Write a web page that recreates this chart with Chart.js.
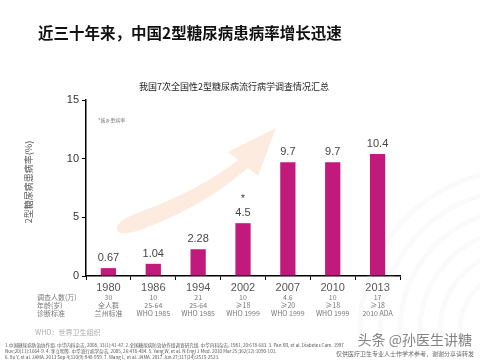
<!DOCTYPE html>
<html>
<head>
<meta charset="utf-8">
<script src="https://cdn.jsdelivr.net/npm/chart.js@4/dist/chart.umd.min.js"></script>
<style>
  html, body { margin: 0; padding: 0; background: #fff; }
  #wrap { width: 480px; height: 360px; }
</style>
</head>
<body>
<div id="wrap"><canvas id="diabetesChart" width="480" height="360"></canvas></div>
<script>
// survey years and prevalence (%)
const years = ['1980', '1986', '1994', '2002', '2007', '2010', '2013'];
const prevalence = [0.67, 1.04, 2.28, 4.5, 9.7, 9.7, 10.4];
const valueLabels = ['0.67', '1.04', '2.28', '4.5', '9.7', '9.7', '10.4'];
const yTicks = [0, 5, 10, 15];

// table under the axis
const rowNames = ['调查人数(万)', '年龄(岁)', '诊断标准'];
const sampleSize = ['30', '10', '21', '10', '4.6', '10', '17'];
const ageRange = ['全人群', '25-64', '25-64', '≥18', '≥20', '≥18', '≥18'];
const criteria = ['兰州标准', 'WHO 1985', 'WHO 1985', 'WHO 1999', 'WHO 1999', 'WHO 1999', '2010 ADA'];

const FONT = '"Liberation Sans", "Noto Sans CJK SC", sans-serif';
const CJK = '"Noto Sans CJK SC", "Liberation Sans", sans-serif';

const refLines = [
    '1.中国糖尿病防治协作组. 中华内科杂志, 2008, 33(1):41-47. 2.全国糖尿病防治协作组调查研究组. 中华内科杂志, 1981, 20:678-683. 3. Pan XR, et al. Diabetes Care. 1997',
    'Nov;20(11):1664-9. 4. 李立明等. 中华流行病学杂志, 2005, 26:478-484. 5. Yang W, et al. N Engl J Med. 2010 Mar 25;362(12):1090-101.',
    '6. Xu Y, et al. JAMA. 2013 Sep 4;310(9):948-959. 7. Wang L, et al. JAMA. 2017 Jun 27;317(24):2515-2523.'
];

// background decoration: faint arrow and arcs
const backdrop = {
    id: 'backdrop',
    beforeDatasetsDraw(chart) {
        const ctx = chart.ctx;
        ctx.save();
        // grey arcs at bottom right
        ctx.strokeStyle = 'rgba(215,215,215,0.12)';
        ctx.lineWidth = 5;
        for (let r = 60; r <= 160; r += 20) {
            ctx.beginPath();
            ctx.arc(520, 330, r, Math.PI * 0.95, Math.PI * 1.5);
            ctx.stroke();
        }
        // orange arrow
        ctx.fillStyle = 'rgba(245,165,110,0.22)';
        ctx.beginPath();
        ctx.moveTo(118, 232);
        ctx.quadraticCurveTo(112, 222, 140, 212);
        ctx.quadraticCurveTo(200, 190, 238, 160);
        ctx.lineTo(228, 152);
        ctx.lineTo(276, 128);
        ctx.lineTo(258, 176);
        ctx.lineTo(248, 168);
        ctx.quadraticCurveTo(205, 205, 150, 226);
        ctx.quadraticCurveTo(128, 236, 118, 232);
        ctx.closePath();
        ctx.fill();
        ctx.restore();
    }
};

// value labels, titles, table and footnotes
const annotations = {
    id: 'annotations',
    afterDraw(chart) {
        const ctx = chart.ctx;
        const meta = chart.getDatasetMeta(0);
        const xs = meta.data.map(b => b.x);
        ctx.save();

        // page title
        ctx.fillStyle = '#111';
        ctx.font = 'bold 15.5px ' + CJK;
        ctx.textAlign = 'left';
        ctx.textBaseline = 'middle';
        ctx.fillText('近三十年来，中国2型糖尿病患病率增长迅速', 38, 33);

        // chart title
        ctx.font = '9px ' + CJK;
        ctx.fillStyle = '#222';
        ctx.textAlign = 'center';
        ctx.fillText('我国7次全国性2型糖尿病流行病学调查情况汇总', 234, 87);

        // small note
        ctx.font = '5px ' + CJK;
        ctx.fillStyle = '#777';
        ctx.textAlign = 'left';
        ctx.fillText('*城乡患病率', 98, 120);

        // y axis title
        ctx.save();
        ctx.translate(29, 182);
        ctx.rotate(-Math.PI / 2);
        ctx.font = '9px ' + CJK;
        ctx.fillStyle = '#555';
        ctx.textAlign = 'center';
        ctx.fillText('2型糖尿病患病率(%)', 0, 0);
        ctx.restore();

        // bar labels
        ctx.font = '11px ' + FONT;
        ctx.fillStyle = '#444';
        ctx.textAlign = 'center';
        meta.data.forEach((bar, i) => {
            ctx.fillText(valueLabels[i], bar.x, bar.y - 10);
        });
        ctx.fillText('*', meta.data[3].x, meta.data[3].y - 24);

        // table
        const rowY = [297, 305, 313];
        const rows = [sampleSize, ageRange, criteria];
        ctx.fillStyle = '#777';
        ctx.font = '7px ' + CJK;
        ctx.textAlign = 'left';
        rowNames.forEach((name, r) => ctx.fillText(name, 37, rowY[r]));
        ctx.textAlign = 'center';
        rows.forEach((vals, r) => {
            vals.forEach((v, i) => ctx.fillText(v, xs[i], rowY[r]));
        });

        // WHO note
        ctx.fillStyle = '#aaa';
        ctx.textAlign = 'left';
        ctx.fillText('WHO：世界卫生组织', 35, 332);

        // references
        ctx.font = '4.6px ' + CJK;
        ctx.fillStyle = '#555';
        refLines.forEach((line, i) => ctx.fillText(line, 5, 345 + i * 6));

        // watermark
        ctx.fillStyle = 'rgba(90,90,90,0.75)';
        ctx.font = '14px ' + CJK;
        ctx.textAlign = 'right';
        ctx.fillText('头条 @孙医生讲糖', 472, 340);
        ctx.font = '6px ' + CJK;
        ctx.fillStyle = '#666';
        ctx.fillText('仅供医疗卫生专业人士作学术参考，谢谢分享请转发', 474, 354);

        ctx.restore();
    }
};

const ctx = document.getElementById('diabetesChart').getContext('2d');
new Chart(ctx, {
    type: 'bar',
    data: {
        labels: years,
        datasets: [{
            label: '2型糖尿病患病率(%)',
            data: prevalence,
            backgroundColor: '#c2197c',
            borderWidth: 0,
            barPercentage: 0.34,
            categoryPercentage: 1
        }]
    },
    options: {
        responsive: false,
        animation: false,
        layout: { padding: { left: 40, top: 100, right: 80, bottom: 0 } },
        plugins: {
            legend: { display: false },
            tooltip: { enabled: false }
        },
        scales: {
            x: {
                afterFit: scale => { scale.height = 84; },
                grid: {
                    offset: true,
                    drawOnChartArea: false,
                    drawTicks: true,
                    tickLength: 4,
                    color: '#000'
                },
                border: { display: true, color: '#000', width: 1.5 },
                ticks: {
                    color: '#555',
                    padding: 1,
                    font: { family: FONT, size: 11 }
                }
            },
            y: {
                min: 0,
                max: 15,
                afterFit: scale => { scale.width = 46; },
                afterBuildTicks: scale => { scale.ticks = yTicks.map(v => ({ value: v })); },
                grid: {
                    drawOnChartArea: false,
                    drawTicks: true,
                    tickLength: 4,
                    color: '#000'
                },
                border: { display: true, color: '#000', width: 1.5 },
                ticks: {
                    color: '#333',
                    padding: 3,
                    font: { family: FONT, size: 11 }
                }
            }
        }
    },
    plugins: [backdrop, annotations]
});
</script>
</body>
</html>
